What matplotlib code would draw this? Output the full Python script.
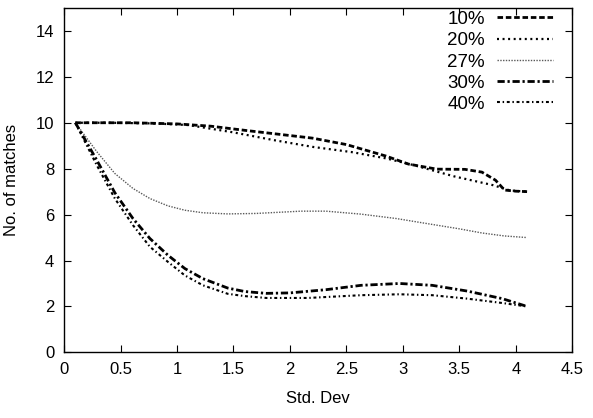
import matplotlib
matplotlib.use('Agg')
from matplotlib import pyplot as plt

# Values
x_10 = [0.1, 0.3, 0.6, 1.0, 1.3, 1.6, 1.9, 2.2, 2.5, 2.85, 3.05, 3.3, 3.55, 3.7, 3.82, 3.9, 4.0, 4.1]
y_10 = [10, 10, 10, 9.95, 9.85, 9.67, 9.5, 9.33, 9.05, 8.55, 8.2, 7.98, 7.97, 7.85, 7.5, 7.07, 7.02, 7.0]

x_20 = [0.1, 0.4, 0.8, 1.1, 1.5, 1.85, 2.2, 2.55, 2.85, 3.1, 3.45, 3.8, 3.95, 4.1]
y_20 = [10, 10, 9.97, 9.9, 9.58, 9.25, 8.95, 8.72, 8.45, 8.15, 7.67, 7.28, 7.05, 7.0]

x_27 = [0.1, 0.29, 0.45, 0.61, 0.76, 0.92, 1.07, 1.23, 1.45, 1.7, 1.9, 2.1, 2.32,
        2.63, 2.94, 3.25, 3.5, 3.7, 3.9, 4.1]
y_27 = [10, 8.74, 7.79, 7.14, 6.70, 6.38, 6.19, 6.08, 6.03, 6.05, 6.1, 6.15, 6.15,
        6.02, 5.83, 5.58, 5.38, 5.2, 5.07, 5.0]

x_30 = [0.1, 0.29, 0.45, 0.61, 0.76, 0.92, 1.07, 1.23, 1.45, 1.6, 1.79, 2.0, 2.32,
        2.63, 2.97, 3.26, 3.57, 3.88, 4.1]
y_30 = [10, 8.37, 6.95, 5.83, 4.96, 4.23, 3.65, 3.21, 2.8, 2.65, 2.57, 2.59, 2.73,
        2.92, 3.0, 2.92, 2.67, 2.34, 2.0]

x_40 = [0.1, 0.29, 0.45, 0.61, 0.76, 0.92, 1.07, 1.23, 1.45, 1.6, 1.79, 2.16, 2.63,
        2.97, 3.26, 3.57, 3.88, 4.1]
y_40 = [10, 8.15, 6.7, 5.54, 4.6, 3.94, 3.35, 2.92, 2.55, 2.45, 2.37, 2.37, 2.49,
        2.53, 2.49, 2.34, 2.15, 2.0]

labels = ['10%', '20%', '27%', '30%', '40%']
xticks = [0, 0.5, 1, 1.5, 2, 2.5, 3, 3.5, 4, 4.5]
yticks = [0, 2, 4, 6, 8, 10, 12, 14]

plt.rcParams['font.family'] = ['Liberation Sans', 'DejaVu Sans']
plt.rcParams['font.size'] = 12

fig = plt.figure(figsize=(5.93, 4.18), dpi=100)
ax = fig.add_axes([0.108, 0.157, 0.857, 0.824])

ax.plot(x_10, y_10, color='k', lw=2.0, dashes=(2.0, 1.0), label=labels[0])
ax.plot(x_20, y_20, color='k', lw=1.6, dashes=(0.9, 1.6), label=labels[1])
ax.plot(x_27, y_27, color='0.35', lw=1.0, dashes=(1.0, 1.0), label=labels[2])
ax.plot(x_30, y_30, color='k', lw=2.0, dashes=(2.6, 1.0, 0.8, 1.0), label=labels[3])
ax.plot(x_40, y_40, color='k', lw=1.5, dashes=(1.4, 1.3, 0.7, 1.3), label=labels[4])

# Format the plot
ax.set_xlim(0, 4.5)
ax.set_ylim(0, 15)
ax.set_xticks(xticks)
ax.set_xticklabels(['0', '0.5', '1', '1.5', '2', '2.5', '3', '3.5', '4', '4.5'])
ax.set_yticks(yticks)
ax.tick_params(direction='in', top=True, right=True, length=5, width=0.8, pad=7)
for s in ax.spines.values():
    s.set_linewidth(1.0)
ax.set_xlabel('Std. Dev', labelpad=10)
ax.set_ylabel('No. of matches', labelpad=12)

ax.legend(loc='upper right', bbox_to_anchor=(0.985, 1.024), frameon=False,
          markerfirst=False, handlelength=3.0, handletextpad=0.65,
          labelspacing=0.22, fontsize=13.5, borderaxespad=0.2)

fig.savefig('out.png', dpi=100)
